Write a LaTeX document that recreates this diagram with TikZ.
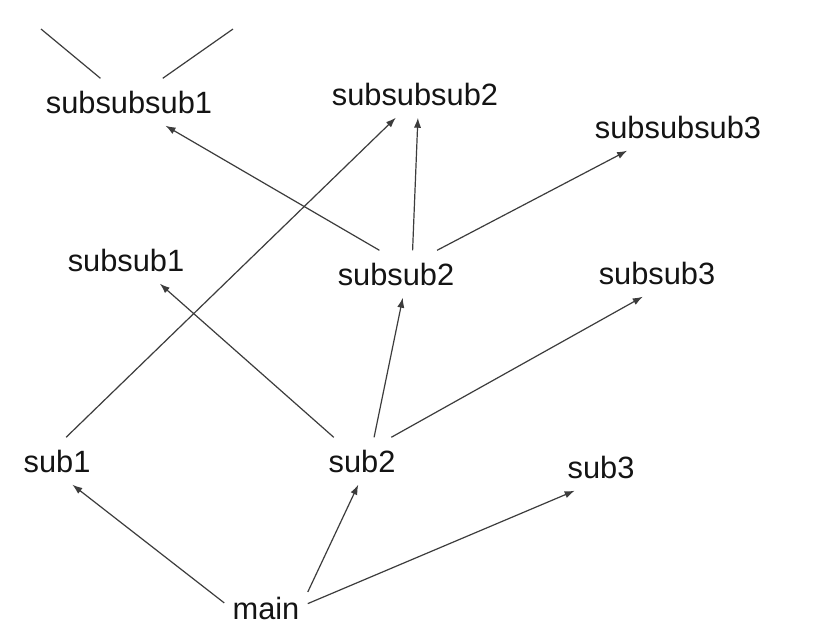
\documentclass[tikz,border=0pt]{standalone}
\usepackage{fontspec}
\setmainfont{Liberation Sans}
\usepackage{xcolor}
\usepackage{tikz}
\usetikzlibrary{arrows.meta}
\definecolor{CallLine}{RGB}{60, 60, 60}
\definecolor{CallText}{RGB}{20, 20, 20}

\begin{document}
\begin{tikzpicture}[x=0.5pt, y=-0.5pt,
    fn/.style={inner xsep=4pt, inner ysep=6pt, text=CallText, font=\fontsize{15.4}{18}\selectfont},
    call/.style={draw=CallLine, line width=0.6pt, -{Latex[length=5pt, width=3.6pt]}},
    loose/.style={draw=CallLine, line width=0.6pt}]
    \path[use as bounding box, fill=white] (0,0) rectangle (820,634);
    \node[fn] (subsubsub1) at (129,102) {subsubsub1};
    \node[fn] (subsubsub2) at (415,94) {subsubsub2};
    \node[fn] (subsubsub3) at (678,127) {subsubsub3};
    \node[fn] (subsub1) at (126,260) {subsub1};
    \node[fn] (subsub2) at (396,274) {subsub2};
    \node[fn] (subsub3) at (657,273) {subsub3};
    \node[fn] (sub1) at (57,461) {sub1};
    \node[fn] (sub2) at (362,461) {sub2};
    \node[fn] (sub3) at (601,467) {sub3};
    \node[fn] (main) at (266,608) {main};
    \coordinate (offleft) at (41,29);
    \coordinate (offright) at (233,29);
    \draw[loose] (offleft) -- (subsubsub1);
    \draw[loose] (offright) -- (subsubsub1);
    \draw[call] (main.173) -- (sub1.303);
    \draw[call] (main.21) -- (sub2.261);
    \draw[call] (main.6) -- (sub3.222);
    \draw[call] (sub1.69) -- (subsubsub2.231);
    \draw[call] (sub2.140) -- (subsub1.325);
    \draw[call] (sub2.63) -- (subsub2.286);
    \draw[call] (sub2.39) -- (subsub3.239);
    \draw[call] (subsub2.125) -- (subsubsub1.327);
    \draw[call] (subsub2.55) -- (subsubsub2.277);
    \draw[call] (subsub2.30) -- (subsubsub3.205);
\end{tikzpicture}
\end{document}
